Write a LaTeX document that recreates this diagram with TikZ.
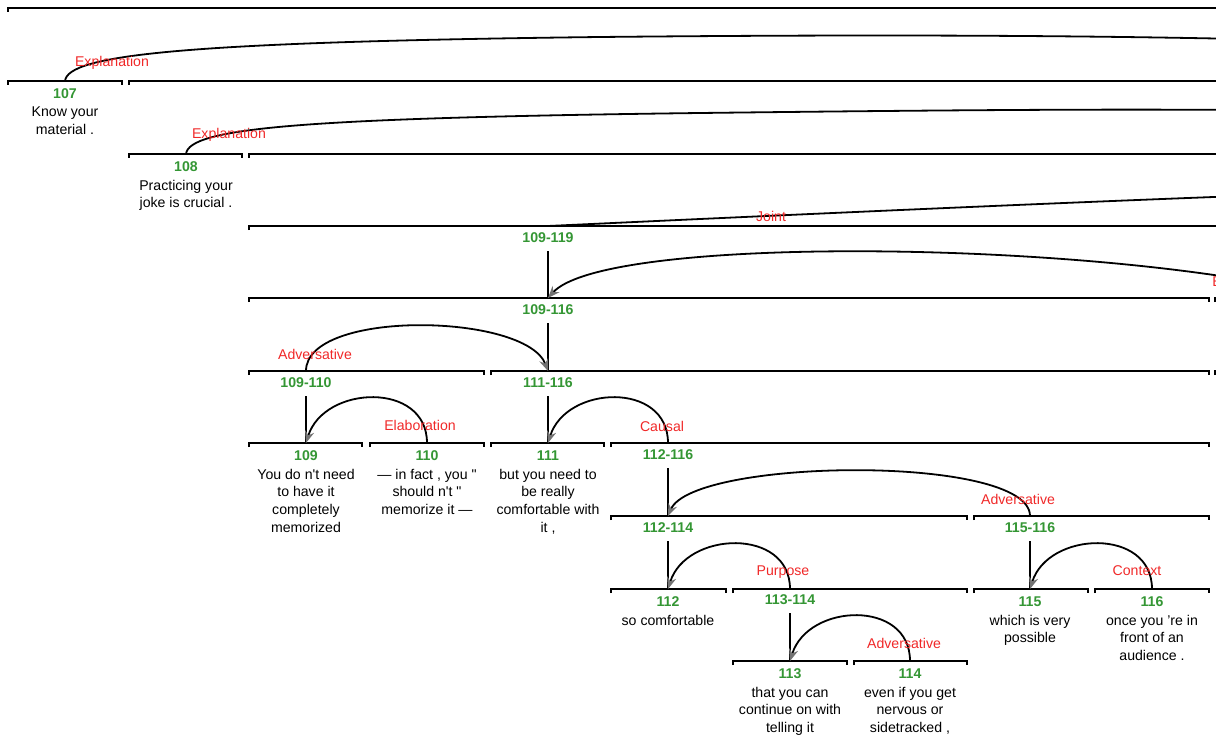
\documentclass[tikz,border=0pt]{standalone}
\usepackage{fontspec}
\setmainfont{Liberation Sans}[Ligatures=TeXOff]
\usetikzlibrary{arrows.meta}
\definecolor{rstgreen}{RGB}{52,150,52}
\definecolor{rstred}{RGB}{240,40,40}
\definecolor{arrowgray}{RGB}{115,115,115}
\newcommand\rstbar[3]{\draw[bar] (#1,{#3+4}) |- (#2,#3) -- ++(0,4);}
\begin{document}
\begin{tikzpicture}[x=0.75pt,y=-0.75pt,
  bar/.style={line width=2.1pt,line join=miter,line cap=butt},
  num/.style={text=rstgreen,font=\fontsize{10.6pt}{12pt}\selectfont\bfseries,inner sep=0pt},
  edu/.style={font=\fontsize{10.6pt}{13.3pt}\selectfont,align=center,anchor=north,inner sep=0pt},
  rel/.style={text=rstred,font=\fontsize{10.6pt}{12pt}\selectfont,inner sep=0pt},
  arc/.style={line width=1.35pt,-{Stealth[length=9pt,width=7pt,inset=3pt,color=arrowgray,fill=arrowgray]}},
  longarc/.style={line width=1.35pt},
  nucl/.style={line width=1.35pt}
]
\useasboundingbox (0,0) rectangle (1216,738);
\clip (0,0) rectangle (1216,738);

% ---------- bars ----------
\rstbar{8}{1240}{8}
\rstbar{8}{122}{81}
\rstbar{129}{1240}{81}
\rstbar{129}{242}{154}
\rstbar{249}{1240}{154}
\rstbar{249}{1240}{226}
\rstbar{249}{1209}{298}
\rstbar{1215}{1240}{298}
\rstbar{249}{484}{371}
\rstbar{491}{1209}{371}
\rstbar{1215}{1240}{371}
\rstbar{249}{362}{443}
\rstbar{370}{484}{443}
\rstbar{491}{604}{443}
\rstbar{611}{1209}{443}
\rstbar{611}{967}{516}
\rstbar{974}{1209}{516}
\rstbar{611}{726}{589}
\rstbar{733}{967}{589}
\rstbar{974}{1088}{589}
\rstbar{1095}{1209}{589}
\rstbar{733}{847}{661}
\rstbar{854}{967}{661}

% ---------- anchor coordinates on bars ----------
\coordinate (b107) at (65,81);
\coordinate (b108) at (186,154);
\coordinate (b109-119) at (548,226);
\coordinate (b109-116) at (548,298);
\coordinate (b109-110) at (306,371);
\coordinate (b111-116) at (548,371);
\coordinate (b109) at (306,443);
\coordinate (b110) at (427,443);
\coordinate (b111) at (548,443);
\coordinate (b112-116) at (668,443);
\coordinate (b112-114) at (668,516);
\coordinate (b115-116) at (1030,516);
\coordinate (b112) at (668,589);
\coordinate (b113-114) at (790,589);
\coordinate (b115) at (1030,589);
\coordinate (b116) at (1152,589);
\coordinate (b113) at (790,661);
\coordinate (b114) at (910,661);
\coordinate (offA) at (1240,39);
\coordinate (offB) at (1240,110);
\coordinate (offJ) at (1240,196);
\coordinate (offE) at (1240,279);

% ---------- leaf numbers and texts ----------
\node[num] (n107) at (65,94) {107};
\node[edu] (t107) at (65,106.5) {Know your\\material .};
\node[num] (n108) at (186,167) {108};
\node[edu] (t108) at (186,179.5) {Practicing your\\joke is crucial .};
\node[num] (n109) at (306,456) {109};
\node[edu] (t109) at (306,468.5) {You do n't need\\to have it\\completely\\memorized};
\node[num] (n110) at (427,456) {110};
\node[edu] (t110) at (427,468.5) {— in fact , you "\\should n't "\\memorize it —};
\node[num] (n111) at (548,456) {111};
\node[edu] (t111) at (548,468.5) {but you need to\\be really\\comfortable with\\it ,};
\node[num] (n112) at (668,602) {112};
\node[edu] (t112) at (668,614.5) {so comfortable};
\node[num] (n115) at (1030,602) {115};
\node[edu] (t115) at (1030,614.5) {which is very\\possible};
\node[num] (n116) at (1152,602) {116};
\node[edu] (t116) at (1152,614.5) {once you ’re in\\front of an\\audience .};
\node[num] (n113) at (790,674) {113};
\node[edu] (t113) at (790,686.5) {that you can\\continue on with\\telling it};
\node[num] (n114) at (910,674) {114};
\node[edu] (t114) at (910,686.5) {even if you get\\nervous or\\sidetracked ,};

% ---------- span labels ----------
\node[num] (s109-119) at (548,238) {109-119};
\node[num] (s109-116) at (548,310) {109-116};
\node[num] (s109-110) at (306,383) {109-110};
\node[num] (s111-116) at (548,383) {111-116};
\node[num] (s112-116) at (668,455) {112-116};
\node[num] (s112-114) at (668,528) {112-114};
\node[num] (s115-116) at (1030,528) {115-116};
\node[num] (s113-114) at (790,600) {113-114};

% ---------- nucleus links ----------
\draw[nucl] ([yshift=-6pt]s109-119.south) -- (b109-116);
\draw[nucl] ([yshift=-6pt]s109-116.south) -- (b111-116);
\draw[nucl] ([yshift=-6pt]s109-110.south) -- (b109);
\draw[nucl] ([yshift=-6pt]s111-116.south) -- (b111);
\draw[nucl] ([yshift=-6pt]s112-116.south) -- (b112-114);
\draw[nucl] ([yshift=-6pt]s112-114.south) -- (b112);
\draw[nucl] ([yshift=-6pt]s115-116.south) -- (b115);
\draw[nucl] ([yshift=-6pt]s113-114.south) -- (b113);

% ---------- relation arcs ----------
\draw[longarc] (b107) .. controls (68,55) and (180,42) .. (600,37) .. controls (900,34) and (1100,36) .. (offA);
\draw[longarc] (b108) .. controls (189,128) and (300,118) .. (700,113) .. controls (950,110) and (1100,109) .. (offB);
\draw[longarc] (b109-119) .. controls (700,219) and (1000,205) .. (offJ);
\draw[arc] (offE) .. controls (1000,240) and (600,240) .. (b109-116);
\draw[arc] (b109-110) .. controls +(0,-62) and +(-22,-58) .. (b111-116);
\draw[arc] (b110) .. controls +(0,-62) and +(18,-58) .. (b109);
\draw[arc] (b112-116) .. controls +(0,-62) and +(18,-58) .. (b111);
\draw[arc] (b115-116) .. controls +(0,-62) and +(25,-58) .. (b112-114);
\draw[arc] (b113-114) .. controls +(0,-62) and +(18,-58) .. (b112);
\draw[arc] (b114) .. controls +(0,-62) and +(18,-58) .. (b113);
\draw[arc] (b116) .. controls +(0,-62) and +(18,-58) .. (b115);

% ---------- relation labels ----------
\node[rel] (r1) at (112,63) {Explanation};
\node[rel] (r2) at (229,135) {Explanation};
\node[rel] (r3) at (771,216) {Joint};
\node[rel,anchor=west] (r4) at (1212,282) {E};
\node[rel] (r5) at (315,354) {Adversative};
\node[rel] (r6) at (420,425) {Elaboration};
\node[rel] (r7) at (662,426) {Causal};
\node[rel] (r8) at (1018,499) {Adversative};
\node[rel] (r9) at (783,572) {Purpose};
\node[rel] (r10) at (904,643) {Adversative};
\node[rel] (r11) at (1137,571) {Context};
\end{tikzpicture}
\end{document}
